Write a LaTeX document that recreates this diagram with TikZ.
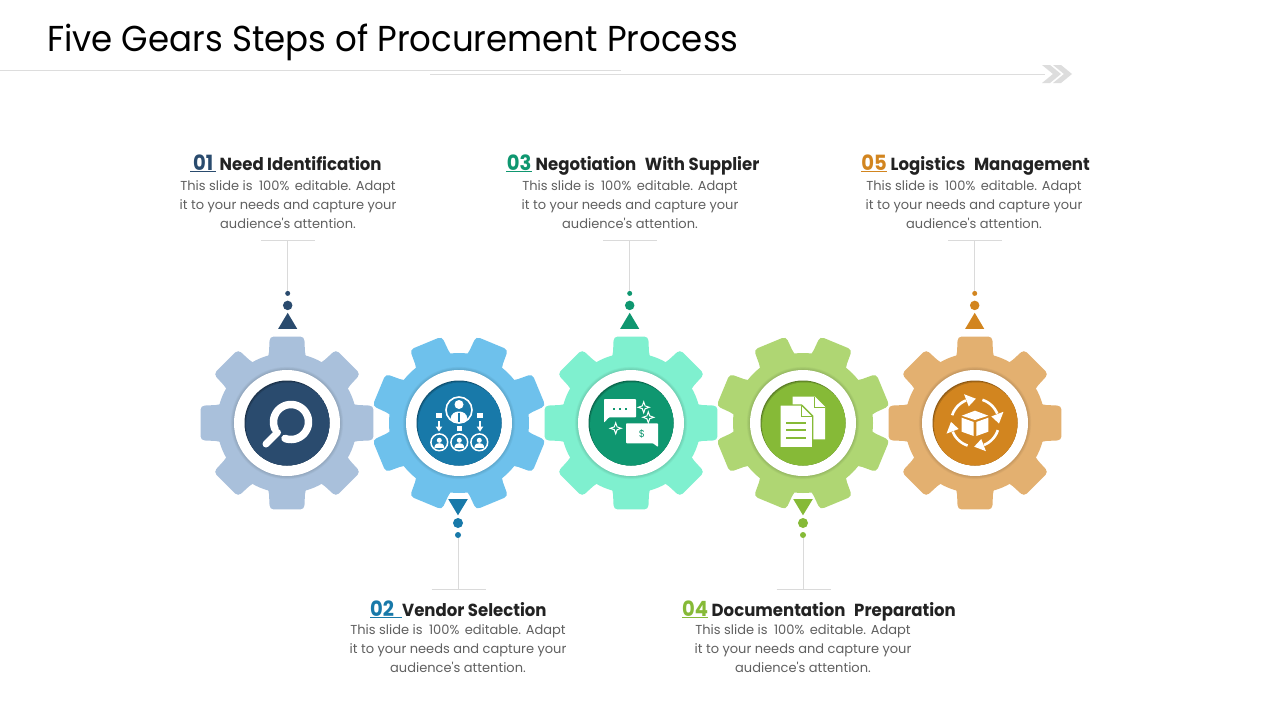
\documentclass[tikz,border=0pt]{standalone}
\usepackage{fontspec}
\setmainfont{Poppins}
\newfontfamily\titlef{Poppins}[FakeStretch=0.945]
\newfontfamily\headf{Poppins}[FakeStretch=0.945]
\newfontfamily\numf{Poppins}[FakeStretch=0.93]
\newfontfamily\bodyf{Poppins}[FakeStretch=1.0]
\definecolor{cA}{HTML}{2A4B6E}\definecolor{lA}{HTML}{A9C0DB}
\definecolor{cB}{HTML}{1879A9}\definecolor{lB}{HTML}{6EC1EC}
\definecolor{cC}{HTML}{0F9770}\definecolor{lC}{HTML}{7FF0CF}
\definecolor{cD}{HTML}{86BA37}\definecolor{lD}{HTML}{AFD673}
\definecolor{cE}{HTML}{D2851F}\definecolor{lE}{HTML}{E3B070}
\definecolor{rulegrey}{HTML}{DDDDDD}
\definecolor{leadgrey}{HTML}{DADADA}
\definecolor{headink}{HTML}{222222}
\definecolor{bodyink}{HTML}{606060}
\tikzset{
  x=1pt,y=-1pt,
  bodytext/.style={inner sep=0pt,align=center,text=bodyink,font=\bodyf\fontsize{13}{19}\selectfont},
  headtext/.style={inner sep=0pt,anchor=base west,text=headink,font=\headf\bfseries\fontsize{17.5}{20}\selectfont},
  leader/.style={draw=leadgrey,line width=0.8pt},
  dotnode/.style={circle,inner sep=0pt,fill=#1},
}
\newcommand\numtag[3]{\textcolor{#1}{\underline{\makebox[#3][c]{\numf\bfseries\fontsize{21}{20}\selectfont #2}}}}
% name, x, tooth offset, light, dark
\newcommand\gearunit[5]{%
  \fill[#4] (#2,423) circle[radius=70];
  \foreach \k in {0,...,7}{%
    \pgfmathsetmacro\a{#3+45*\k}%
    \fill[#4,rounded corners=4pt,shift={(#2,423)}] (\a-24:60) -- (\a-15:70) -- (\a-11.3:88.2) -- (\a+11.3:88.2) -- (\a+15:70) -- (\a+24:60) -- cycle;
  }
  \foreach \r in {1,...,4}{\fill[black,opacity=0.03] (#2,423) circle[radius=53+\r*0.8];}
  \node[circle,fill=white,inner sep=0pt,minimum size=106pt] (ring#1) at (#2,423) {};
  \node[circle,fill=#5!68!black,inner sep=0pt,minimum size=85pt] (disc#1) at (#2,423) {};
  \begin{scope}
    \clip (#2,423) circle[radius=42.5];
    \fill[#5!85!black] (#2+0.8,423+1) circle[radius=42.5];
    \fill[#5] (#2+1.6,423+2) circle[radius=42.5];
  \end{scope}
}
% id, x, colour: marks above a gear
\newcommand\upmarks[3]{%
  \coordinate (tickL#1) at (#2-27,240);
  \coordinate (tickR#1) at (#2+27,240);
  \coordinate (lead#1) at (#2-0.3,240);
  \node[dotnode=#3,minimum size=5pt] (small#1) at (#2-0.3,293.4) {};
  \node[dotnode=#3,minimum size=9.5pt] (big#1) at (#2-0.3,305.4) {};
  \fill[#3] (#2-0.3,312.8) -- (#2+9.2,328.8) -- (#2-9.8,328.8) -- cycle;
  \draw[leader] (tickL#1) -- (tickR#1);
  \draw[leader] (lead#1) -- (small#1);
}
% id, x, colour: marks below a gear
\newcommand\downmarks[3]{%
  \coordinate (tickL#1) at (#2-27,589);
  \coordinate (tickR#1) at (#2+27,589);
  \coordinate (lead#1) at (#2-0.5,589);
  \node[dotnode=#3,minimum size=6pt] (small#1) at (#2-0.5,535) {};
  \node[dotnode=#3,minimum size=10pt] (big#1) at (#2-0.5,523) {};
  \fill[#3] (#2-0.5,515.3) -- (#2+9.3,499) -- (#2-10.3,499) -- cycle;
  \draw[leader] (tickL#1) -- (tickR#1);
  \draw[leader] (lead#1) -- (small#1);
}
\newcommand\sparkle[2]{%
  \draw[white,line width=1pt,line join=miter] (#1+5.5,#2) -- (#1+1.4,#2+1.4) -- (#1,#2+5.5) -- (#1-1.4,#2+1.4) -- (#1-5.5,#2) -- (#1-1.4,#2-1.4) -- (#1,#2-5.5) -- (#1+1.4,#2-1.4) -- cycle;
}
\newcommand\minion[1]{%
  \draw[white,line width=1.5pt] (#1,442.3) circle[radius=8.4];
  \fill[white] (#1,440.3) circle[radius=2.5];
  \fill[white] (#1-5,447.8) .. controls (#1-4.5,443.6) and (#1-2,443.2) .. (#1,443.2) .. controls (#1+2,443.2) and (#1+4.5,443.6) .. (#1+5,447.8) -- cycle;
}
\newcommand\blurb{This slide is\hspace{3pt} 100\%\hspace{2pt} editable. Adapt\\it to your needs and capture your\\audience's attention.}
\begin{document}
\begin{tikzpicture}
\useasboundingbox (0,0) rectangle (1280,720);
\fill[white] (0,0) rectangle (1280,720);

% title and rules
\node[inner sep=0pt,anchor=base west,text=black,font=\titlef\fontsize{36}{40}\selectfont] (title) at (47,51) {Five Gears Steps of Procurement Process};
\coordinate (ruleAl) at (0,70.5); \coordinate (ruleAr) at (621,70.5);
\coordinate (ruleBl) at (430,74.5); \coordinate (ruleBr) at (1045,74.5);
\draw[rulegrey,line width=1pt] (ruleAl) -- (ruleAr);
\draw[rulegrey,line width=1pt] (ruleBl) -- (ruleBr);
\foreach \x in {1042,1053}{\fill[rulegrey] (\x,65) -- (\x+8,65) -- (\x+19,74) -- (\x+8,83) -- (\x,83) -- (\x+11,74) -- cycle;}

% gears
\gearunit{A}{287}{0}{lA}{cA}
\gearunit{B}{459}{22.5}{lB}{cB}
\gearunit{C}{631}{0}{lC}{cC}
\gearunit{D}{803}{22.5}{lD}{cD}
\gearunit{E}{975}{0}{lE}{cE}

% marks
\upmarks{A}{288}{cA}
\downmarks{B}{458.5}{cB}
\upmarks{C}{630}{cC}
\downmarks{D}{803.5}{cD}
\upmarks{E}{975}{cE}

% icon A: magnifier
\draw[white,line width=7.5pt,line cap=round] plot[variable=\t,domain=110:-205,samples=60] ({291+17.5*cos(\t)},{422+17.5*sin(\t)});
\draw[white,line width=7pt,line cap=round] (266,444) -- (277.5,432.5);

% icon B: people
\draw[white,line width=1.6pt] (459,410) circle[radius=13];
\fill[white] (459,404.5) circle[radius=4.5];
\fill[white] (450.5,419) .. controls (451,413.5) and (455,411.5) .. (459,411.5) .. controls (463,411.5) and (467,413.5) .. (467.5,419) .. controls (465,421.5) and (462,422.5) .. (459,422.5) .. controls (456,422.5) and (453,421.5) .. (450.5,419) -- cycle;
\draw[cB,line width=1.2pt] (459,412.5) -- (459,421.5);
\fill[white] (436.3,413) rectangle (441.7,418.4);
\fill[white] (477.3,413) rectangle (482.7,418.4);
\fill[white] (456.6,425.6) rectangle (462,431);
\foreach \x in {439,480}{
  \draw[white,line width=1.4pt] (\x,421) -- (\x,428);
  \fill[white] (\x-3.4,426.5) -- (\x+3.4,426.5) -- (\x,431.5) -- cycle;
}
\minion{439.3}\minion{459.3}\minion{479.3}

% icon C: speech bubbles
\fill[white,rounded corners=0.8pt] (604,399) -- (636,399) -- (636,417.3) -- (609,417.3) -- (604,422.7) -- cycle;
\foreach \x in {614,620,626}{\fill[cC] (\x-0.9,407.9) rectangle (\x+0.9,409.6);}
\fill[white,rounded corners=0.8pt] (626,423.3) -- (658,423.3) -- (658,447) -- (653,443.3) -- (626,443.3) -- cycle;
\node[inner sep=0pt,text=cC,font=\bodyf\fontsize{10}{10}\selectfont] (dollar) at (642,433.5) {\$};
\sparkle{643.7}{407.3}
\sparkle{648.3}{417.3}
\sparkle{615.7}{428.3}

% icon D: documents
\fill[white] (792.7,396.7) -- (815,396.7) -- (825,406.7) -- (825,439.3) -- (792.7,439.3) -- cycle;
\draw[cD,line width=1pt] (814.5,397) -- (814.5,407.2) -- (825,407.2);
\filldraw[fill=white,draw=cD,line width=1.4pt] (780,405) -- (801.5,405) -- (812.7,416) -- (812.7,447.7) -- (780,447.7) -- cycle;
\draw[cD,line width=1pt] (801,405.5) -- (801,416.5) -- (812.5,416.5);
\foreach \y in {422.7,430.3,437.7}{\draw[cD,line width=2pt] (786,\y) -- (806,\y);}

% icon E: box and arrows
\fill[white] (975,410.7) -- (988.3,415.7) -- (975,420) -- (961.7,415.7) -- cycle;
\fill[white] (961.7,417.7) -- (973.7,422) -- (973.7,436) -- (961.7,431.7) -- cycle;
\fill[white] (988.3,417.7) -- (976.3,422) -- (976.3,436) -- (988.3,431.7) -- cycle;
\foreach \o in {0,90,180,270}{
  \draw[white,line width=2.6pt] plot[variable=\t,domain=-162:-112,samples=15] ({975+24*cos(\t+\o)},{422.7+24*sin(\t+\o)});
  \fill[white] ({975+17.5*cos(-111+\o)},{422.7+17.5*sin(-111+\o)}) -- ({975+30.5*cos(-111+\o)},{422.7+30.5*sin(-111+\o)}) -- ({975+24*cos(-88+\o)},{422.7+24*sin(-88+\o)}) -- cycle;
}

% texts
\node[headtext] (headA) at (190,170) {\numtag{cA}{01}{26pt} Need Identification};
\node[bodytext] (bodyA) at (288,205) {\blurb};
\node[headtext] (headC) at (506,170) {\numtag{cC}{03}{26pt} Negotiation\hspace{0.3em} With Supplier};
\node[bodytext] (bodyC) at (630,205) {\blurb};
\node[headtext] (headE) at (861,170) {\numtag{cE}{05}{26pt} Logistics\hspace{0.3em} Management};
\node[bodytext] (bodyE) at (974,205) {\blurb};
\node[headtext] (headB) at (370,616) {\numtag{cB}{02\hfill}{32pt}Vendor Selection};
\node[bodytext] (bodyB) at (458,649) {\blurb};
\node[headtext] (headD) at (682,616) {\numtag{cD}{04}{26pt} Documentation\hspace{0.3em} Preparation};
\node[bodytext] (bodyD) at (803,649) {\blurb};
\end{tikzpicture}
\end{document}
